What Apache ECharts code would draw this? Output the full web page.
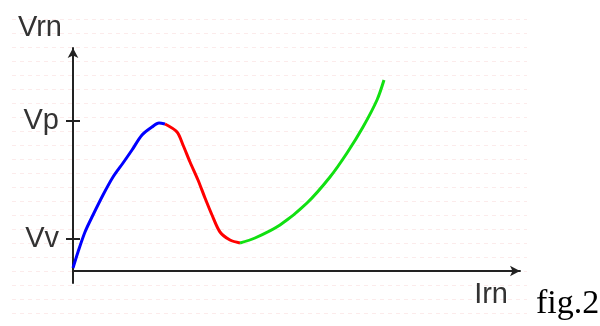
<!DOCTYPE html>
<html>
<head>
<meta charset="utf-8">
<script src="https://cdn.jsdelivr.net/npm/echarts@6/dist/echarts.min.js"></script>
<style>html,body{margin:0;padding:0;background:#fff}#c{width:600px;height:326px}</style>
</head>
<body>
<div id="c"></div>
<script>
// Curve (x: current, y: voltage, arbitrary units)
const blueSeg = [[0,3],[5,19],[12,39],[20,56],[30,76],[40,94],[50,108],[59,121],[69,136],[79,144],[86,148],[92,147]];
const redSeg = [[92,147],[104,139],[110,126],[117,109],[125,91],[132,73],[139,56],[147,39],[157,31],[167,28]];
const greenSeg = [[167,28],[182,33],[207,46],[234,68],[257,94],[274,118],[290,144],[304,171],[311,191]];
const yTickValues = [32, 150];
const yTickLabels = ['Vv', 'Vp'];
const xName = 'Irn';
const yName = 'Vrn';
const figLabel = 'fig.2';

const labelFont = 'Liberation Sans';
const labelColor = '#333';
const axisColor = '#222';

const chart = echarts.init(document.getElementById('c'), null, {renderer: 'canvas'});
chart.setOption({
  animation: false,
  backgroundColor: '#fff',
  title: {
    text: figLabel, left: 531, top: 282,
    textStyle: {fontFamily: 'Liberation Serif', fontSize: 34, fontWeight: 'normal', color: '#000'}
  },
  grid: [
    {left: 73, right: 80, top: 48, bottom: 43},
    {left: 12, right: 73, top: 19, bottom: 13}
  ],
  xAxis: [
    {
      type: 'value', gridIndex: 0, min: 0, max: 447,
      name: xName, nameLocation: 'end', nameGap: -12,
      nameTextStyle: {fontFamily: labelFont, fontSize: 29, color: labelColor, align: 'right', verticalAlign: 'top', padding: [9, 0, 0, 0]},
      axisLine: {show: true, onZero: true, symbol: ['none', 'arrow'], symbolSize: [8, 10], lineStyle: {color: axisColor, width: 2}},
      axisTick: {show: false}, axisLabel: {show: false}, splitLine: {show: false}
    },
    {
      type: 'value', gridIndex: 1, min: 0, max: 1, show: false,
      splitLine: {show: false}
    }
  ],
  yAxis: [
    {
      type: 'value', gridIndex: 0, min: -12, max: 223, position: 'left',
      name: yName, nameLocation: 'end', nameGap: 6,
      nameTextStyle: {fontFamily: labelFont, fontSize: 29, color: labelColor, align: 'right', verticalAlign: 'bottom', padding: [0, 11, 0, 0]},
      axisLine: {show: true, onZero: false, symbol: ['none', 'arrow'], symbolSize: [8, 10], lineStyle: {color: axisColor, width: 2}},
      axisTick: {show: true, length: 7, customValues: yTickValues, lineStyle: {color: axisColor, width: 2}},
      axisLabel: {
        show: true, margin: 14, customValues: yTickValues,
        fontFamily: labelFont, fontSize: 29, color: labelColor,
        formatter: function (v) { const i = yTickValues.indexOf(v); return i >= 0 ? yTickLabels[i] : ''; }
      },
      splitLine: {show: false}
    },
    {
      type: 'value', gridIndex: 0, min: -12, max: 223, position: 'left',
      axisLine: {show: false, onZero: false},
      axisTick: {show: true, inside: true, length: 7, customValues: yTickValues, lineStyle: {color: axisColor, width: 2}},
      axisLabel: {show: false}, splitLine: {show: false}
    },
    {
      type: 'value', gridIndex: 1, min: 0, max: 21, interval: 1,
      axisLine: {show: false}, axisTick: {show: false}, axisLabel: {show: false},
      splitLine: {show: true, lineStyle: {color: '#fcebeb', width: 1, type: [4, 4]}}
    }
  ],
  series: [
    {type: 'line', xAxisIndex: 0, yAxisIndex: 0, data: blueSeg, smooth: 0.3, showSymbol: false, lineStyle: {color: '#0000ff', width: 3}, z: 3},
    {type: 'line', xAxisIndex: 0, yAxisIndex: 0, data: redSeg, smooth: 0.3, showSymbol: false, lineStyle: {color: '#ff0000', width: 3}, z: 3},
    {type: 'line', xAxisIndex: 0, yAxisIndex: 0, data: greenSeg, smooth: 0.3, showSymbol: false, lineStyle: {color: '#11e011', width: 3}, z: 3}
  ]
});
</script>
</body>
</html>
